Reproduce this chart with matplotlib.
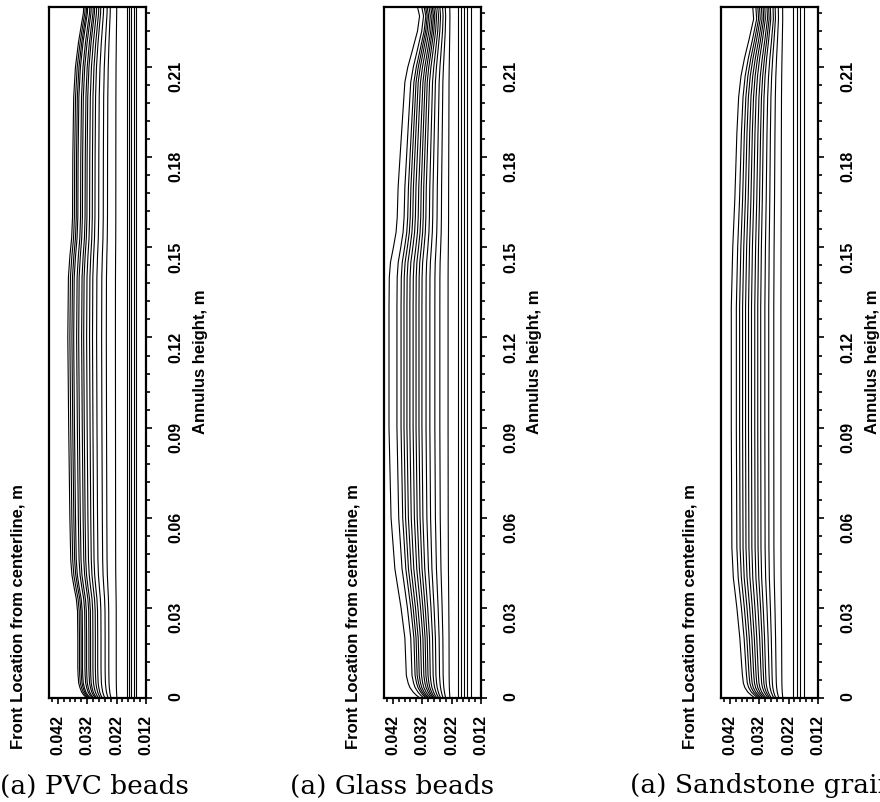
import numpy as np
import matplotlib
matplotlib.use("Agg")
import matplotlib.pyplot as plt
from matplotlib.ticker import MultipleLocator

plt.rcParams['font.family'] = ['Liberation Sans', 'DejaVu Sans']

# front location ticks (m) and annulus height ticks (m)
x_ticks = [0.042, 0.032, 0.022, 0.012]
x_ticklabels = ['0.042', '0.032', '0.022', '0.012']
y_ticks = [0, 0.03, 0.06, 0.09, 0.12, 0.15, 0.18, 0.21]
y_ticklabels = ['0', '0.03', '0.06', '0.09', '0.12', '0.15', '0.18', '0.21']

# --- PVC beads ---
pvc_h = [0, 0.001, 0.002, 0.0035, 0.005, 0.0075, 0.01, 0.02, 0.029, 0.033, 0.037, 0.041,
         0.046, 0.06, 0.09, 0.12, 0.14, 0.147, 0.153, 0.16, 0.18, 0.2, 0.21, 0.218,
         0.224, 0.228, 0.23]
pvc_outer = [0.0322, 0.0332, 0.0339, 0.0345, 0.0349, 0.0351, 0.0352, 0.0352, 0.0353, 0.0357,
             0.0365, 0.0372, 0.0376, 0.0379, 0.0383, 0.0386, 0.0384, 0.0379, 0.0373, 0.0370,
             0.0369, 0.0366, 0.0360, 0.0350, 0.0340, 0.0333, 0.0332]
pvc_mid = [0.0386, 0.0379, 0.0372, 0.0366, 0.0356, 0.0349, 0.0339, 0.0332, 0.0322, 0.0312,
           0.0302, 0.0288, 0.0271, 0.0255, 0.0224]
pvc_amp = [1.0, 0.96, 0.92, 0.88, 0.83, 0.79, 0.73, 0.69, 0.63, 0.58, 0.52, 0.44, 0.35, 0.25, 0.08]
pvc_inner = [0.0184, 0.0177, 0.0170, 0.0160, 0.0153]

# --- Glass beads ---
glass_h = [0, 0.001, 0.002, 0.0035, 0.005, 0.0075, 0.01, 0.02, 0.03, 0.043, 0.06, 0.09,
           0.13, 0.14, 0.145, 0.15, 0.155, 0.16, 0.17, 0.19, 0.205, 0.21, 0.215, 0.222,
           0.227, 0.23]
glass_outer = [0.0328, 0.0341, 0.0351, 0.0362, 0.0368, 0.0374, 0.0375, 0.0379, 0.0392, 0.0413,
               0.0426, 0.0433, 0.0433, 0.0432, 0.0428, 0.0418, 0.0409, 0.0405, 0.0402, 0.0389,
               0.0379, 0.0369, 0.0355, 0.0336, 0.0329, 0.0336]
glass_mid = [0.0433, 0.0406, 0.0392, 0.0382, 0.0372, 0.0362, 0.0351, 0.0341, 0.0331, 0.0321,
             0.0307, 0.0294, 0.0277, 0.0260, 0.0232]
glass_amp = [1.0, 0.87, 0.81, 0.76, 0.71, 0.67, 0.62, 0.57, 0.52, 0.48, 0.41, 0.35, 0.27, 0.19, 0.06]
glass_inner = [0.0198, 0.0188, 0.0178, 0.0168, 0.0154]

# --- Sandstone grains ---
sand_h = [0, 0.001, 0.002, 0.0035, 0.005, 0.0075, 0.01, 0.02, 0.03, 0.04, 0.05, 0.09,
          0.13, 0.15, 0.166, 0.188, 0.2, 0.207, 0.213, 0.219, 0.226, 0.23]
sand_outer = [0.0335, 0.0348, 0.0359, 0.0369, 0.0374, 0.0377, 0.0379, 0.0386, 0.0396, 0.0408,
              0.0413, 0.0415, 0.0415, 0.0410, 0.0403, 0.0396, 0.0390, 0.0382, 0.0370, 0.0355,
              0.0339, 0.0342]
sand_mid = [0.0413, 0.0396, 0.0385, 0.0375, 0.0365, 0.0355, 0.0345, 0.0334, 0.0324, 0.0314,
            0.0300, 0.0287, 0.0270, 0.0246]
sand_amp = [1.0, 0.91, 0.85, 0.79, 0.74, 0.68, 0.62, 0.57, 0.51, 0.45, 0.38, 0.30, 0.21, 0.08]
sand_inner = [0.0205, 0.0192, 0.0181, 0.0168]

captions = ['(a) PVC beads', '(a) Glass beads', '(a) Sandstone grains']


def draw_panel(ax, heights, outer, mids, amps, inner):
    heights = np.array(heights)
    shift = np.array(outer) - mids[0]
    for m, a in zip(mids, amps):
        ax.plot(m + a * shift, heights, color='black', lw=0.8)
    for m in inner:
        ax.axvline(m, color='black', lw=0.8)

    ax.set_xlim(0.045, 0.012)
    ax.set_ylim(0, 0.23)
    ax.set_xticks(x_ticks)
    ax.set_xticklabels(x_ticklabels)
    ax.xaxis.set_minor_locator(MultipleLocator(0.002))
    ax.yaxis.tick_right()
    ax.set_yticks(y_ticks)
    ax.set_yticklabels(y_ticklabels)
    ax.yaxis.set_minor_locator(MultipleLocator(0.006))
    ax.tick_params(which='both', direction='out', top=False, left=False,
                   right=True, bottom=True, width=1.2)
    ax.tick_params(which='major', length=4)
    ax.tick_params(which='minor', length=3)
    ax.tick_params(axis='x', labelrotation=90, pad=8, labelsize=11.5)
    ax.tick_params(axis='y', labelrotation=90, pad=12, labelsize=11.5)
    for lab in ax.get_xticklabels() + ax.get_yticklabels():
        lab.set_fontweight('bold')
    for s in ax.spines.values():
        s.set_linewidth(1.6)


fig = plt.figure(figsize=(8.8, 8.02), dpi=100)

panels = [
    (pvc_h, pvc_outer, pvc_mid, pvc_amp, pvc_inner),
    (glass_h, glass_outer, glass_mid, glass_amp, glass_inner),
    (sand_h, sand_outer, sand_mid, sand_amp, sand_inner),
]
lefts = [49, 384, 721]      # pixel position of each panel's left spine
cap_x = [0, 290, 630]       # pixel position of each caption
for left, cx, cap, p in zip(lefts, cap_x, captions, panels):
    ax = fig.add_axes([left / 880, 104 / 802, 97 / 880, 691 / 802])
    draw_panel(ax, *p)
    fig.text((left - 31) / 880, 1 - 617 / 802, 'Front Location from centerline, m',
             rotation=90, ha='center', va='center', fontsize=12, fontweight='bold')
    fig.text((left + 151) / 880, 1 - 362 / 802, 'Annulus height, m',
             rotation=90, ha='center', va='center', fontsize=12, fontweight='bold')
    fig.text(cx / 880, 1 - 786 / 802, cap, ha='left', va='center',
             fontsize=19, family='DejaVu Serif')

fig.savefig('out.png', dpi=100)
